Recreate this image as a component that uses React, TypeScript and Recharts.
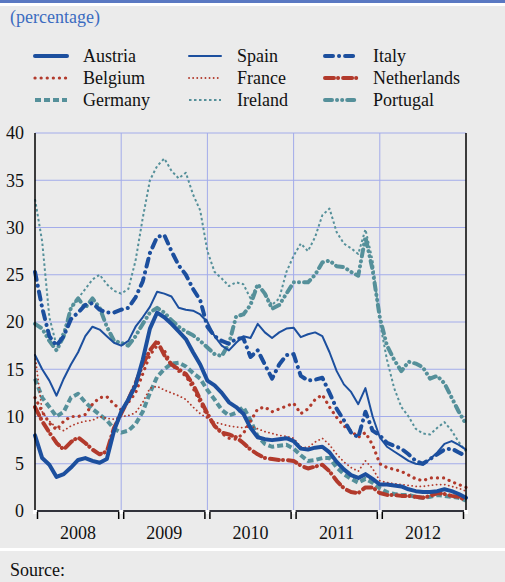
import { LineChart, Line, XAxis, YAxis, CartesianGrid, ReferenceLine } from 'recharts';

// monthly points, Jan 2008 (0) .. Jan 2013 (60)
const months = Array.from({ length: 61 }, (_, i) => i);
const yearLabels = ['2008', '2009', '2010', '2011', '2012'];
const yearBoundaries = [12, 24, 36, 48];
const xTicks = [0, 6, 12, 18, 24, 30, 36, 42, 48, 54, 60];
const yTicks = [0, 5, 10, 15, 20, 25, 30, 35, 40];

const austria = [8, 5.6, 4.9, 3.6, 3.9, 4.6, 5.4, 5.6, 5.3, 5.1, 5.5, 8.5, 10.5, 11.8, 13.3, 16, 19.3, 21, 20.5, 19.8, 19, 18.2, 16.8, 15.5, 13.8, 13.3, 12.5, 11.5, 11, 10.3, 8.8, 7.8, 7.6, 7.5, 7.6, 7.7, 7.4, 6.6, 6.5, 6.7, 6.8, 6.2, 5.2, 4.4, 3.8, 3.5, 3.9, 3.4, 2.8, 2.8, 2.7, 2.6, 2.3, 2.1, 2, 2, 2.1, 2.3, 2.1, 1.8, 1.4];
const belgium = [12, 10.5, 9.3, 8.6, 9.5, 10, 10, 10.2, 11.3, 12, 12.1, 11.3, 10.7, 11.5, 12.5, 14.5, 16.5, 17.5, 17, 15.5, 14.8, 14.3, 13, 11.5, 10, 9, 8.2, 7.7, 7.6, 8.2, 9.5, 10.8, 11, 10.5, 10.8, 11.1, 11.4, 10.3, 10.8, 11.8, 12.3, 11, 9.9, 9, 8.5, 7.8, 8.3, 7, 5, 4.6, 4.4, 4.2, 3.8, 3.4, 3.2, 3.5, 3.5, 3.5, 3.1, 2.8, 2.5];
const germany = [14, 12, 11, 10, 10.5, 12, 12.4, 11.5, 10.8, 10.2, 9.6, 8.7, 8.3, 8.5, 9.2, 10.5, 12.5, 14.2, 15, 15.6, 15.7, 15.3, 14.6, 14, 12.8, 11.8, 10.7, 10.1, 10.4, 11, 9.6, 7.9, 7.1, 6.8, 6.9, 7, 6.6, 5.9, 5.3, 5.4, 5.6, 5.6, 4.6, 3.9, 3.4, 3, 3.4, 3, 2.4, 2, 1.8, 1.7, 1.7, 1.5, 1.4, 1.5, 1.7, 1.6, 1.5, 1.4, 1.1];
const spain = [16.5, 15, 13.8, 12.2, 14, 15.5, 16.8, 18.5, 19.5, 19.2, 18.5, 17.8, 17.5, 18, 19.5, 20.5, 21.6, 23.2, 23, 22.7, 21.5, 21.3, 21.2, 20.8, 20, 18.5, 17.5, 17, 17.8, 18.5, 18.3, 19.8, 18.9, 18.3, 18.9, 19.3, 19.4, 18.4, 18.7, 18.9, 18.5, 16.8, 14.8, 13.4, 12.6, 11.3, 13, 10, 7.8, 6.8, 6.3, 5.8, 5.3, 5, 4.9, 5.5, 6.2, 7.1, 7.4, 7, 6.5];
const france = [16.5, 10.5, 9.5, 8.8, 8.5, 9, 9.3, 9.5, 9.6, 10, 9.8, 9.7, 10, 10.1, 10.4, 11.5, 13, 13.2, 12.8, 12.5, 12.2, 11.8, 11, 10.3, 9.8, 9.4, 9.2, 9, 8.9, 8.8, 9, 8.7, 8.4, 8.2, 8, 7.9, 7.7, 6.8, 6.7, 7.3, 7.7, 7, 6, 5.2, 4.6, 4.2, 5.3, 4.5, 3.2, 3, 2.9, 2.8, 2.7, 2.6, 2.6, 2.7, 2.8, 2.8, 2.6, 2.4, 2.1];
const ireland = [33, 28.5, 20.5, 17.5, 19, 21.5, 22.5, 23.5, 24.5, 25, 24, 23.3, 23, 23.5, 26.5, 31, 35, 36.5, 37.3, 36, 35.2, 35.8, 33.5, 31.8, 27.5, 25.3, 24.6, 23.8, 24.2, 24, 22.5, 24, 23, 21.8, 22.5, 25.3, 27, 28.3, 27.5, 29, 31.3, 32, 29.5, 28.3, 27.8, 27.2, 29.8, 26.5, 20, 16, 13, 11, 10, 8.7, 8.2, 8.1, 8.8, 9.4, 8.5, 7.3, 6.3];
const italy = [25.3, 21.5, 18.5, 17.5, 18.5, 20.3, 21, 21.8, 22, 21.3, 21, 21, 21.3, 21.5, 22.6, 24.3, 27.3, 29, 29.2, 27.5, 26, 25, 23.5, 22.3, 19.5, 18.5, 18, 17.7, 18.2, 18.3, 16.3, 17, 15.5, 14, 15.5, 16.5, 16.6, 14.3, 13.8, 13.9, 14.1, 12.5, 10.8, 9.6, 8.3, 7.8, 10.5, 8.5, 8, 7.2, 6.9, 6.6, 6, 5.3, 5, 5.5, 6, 6.5, 6.6, 6.2, 5.8];
const netherlands = [11, 9.5, 8.3, 7.2, 6.5, 7.3, 7.8, 7.2, 6.5, 6, 6.3, 8.8, 10.3, 11.8, 13.5, 15.5, 17, 18, 16.5, 15.5, 15, 14.5, 13.4, 11.8, 10.3, 9, 8.3, 8.1, 7.8, 7.2, 6.5, 6, 5.6, 5.5, 5.4, 5.4, 5.3, 4.8, 4.5, 4.7, 4.9, 4.2, 3.2, 2.4, 2, 1.9, 2.5, 2.5, 1.9, 1.7, 1.7, 1.6, 1.6, 1.5, 1.4, 1.6, 1.9, 1.8, 1.6, 1.5, 1.1];
const portugal = [19.8, 19.3, 18, 17, 18.5, 21.5, 22.5, 21.5, 22.5, 21.5, 19.5, 18, 17.8, 17.5, 18.5, 19.8, 21, 21.5, 21, 20.2, 19.5, 19, 18.6, 18, 17.3, 16.6, 16.4, 17.7, 20.6, 20.8, 21.8, 24, 23, 21.4, 21.8, 23, 24.2, 24.2, 24.2, 25, 26.3, 26.5, 25.9, 25.8, 25.3, 24.9, 29, 25.5, 20.5, 17.5, 16, 14.8, 15.8, 15.6, 15.2, 14, 14.3, 13.5, 12, 10.5, 9.2];

const BLUE = '#1c4f9e';
const RED = '#b23a2c';
const TEAL = '#55909a';
const GRID = '#a3acea';
const FONT = 'Liberation Serif, serif';

type S = { key: string; values: number[]; color: string; width: number; dash?: string; cap: 'round' | 'butt' };

// drawing order: back to front
const series: S[] = [
  { key: 'Germany', values: germany, color: TEAL, width: 4, dash: '6 3', cap: 'butt' },
  { key: 'Ireland', values: ireland, color: TEAL, width: 2, dash: '2.5 2.5', cap: 'butt' },
  { key: 'Portugal', values: portugal, color: TEAL, width: 4, dash: '7 5 0.1 5 0.1 5', cap: 'round' },
  { key: 'France', values: france, color: RED, width: 1.8, dash: '0.1 4', cap: 'round' },
  { key: 'Belgium', values: belgium, color: RED, width: 3.2, dash: '0.1 6', cap: 'round' },
  { key: 'Netherlands', values: netherlands, color: RED, width: 4, dash: '9 4 0.1 5', cap: 'round' },
  { key: 'Italy', values: italy, color: BLUE, width: 4, dash: '8 6 0.1 6', cap: 'round' },
  { key: 'Spain', values: spain, color: BLUE, width: 2, cap: 'round' },
  { key: 'Austria', values: austria, color: BLUE, width: 4, cap: 'round' },
];

const legendColumns = [
  ['Austria', 'Belgium', 'Germany'],
  ['Spain', 'France', 'Ireland'],
  ['Italy', 'Netherlands', 'Portugal'],
];

const data = months.map((m, i) => {
  const row: Record<string, number> = { m };
  series.forEach((s) => { row[s.key] = s.values[i]; });
  return row;
});

function YearTick(props: any) {
  const { x, y, payload } = props;
  const v = payload.value as number;
  if (v % 12 === 6) {
    return (
      <text x={x} y={y + 28} textAnchor="middle" fontFamily={FONT} fontSize={18} fill="#111">
        {yearLabels[(v - 6) / 12]}
      </text>
    );
  }
  return (
    <g>
      <rect x={x - 2} y={y - 1} width={4} height={4} fill="#ffffff" />
      {v > 0 && <line x1={x - 2.5} x2={x - 2.5} y1={y + 1} y2={y + 8} stroke="#000" strokeWidth={1.5} />}
      {v < 60 && <line x1={x + 2.5} x2={x + 2.5} y1={y + 1} y2={y + 8} stroke="#000" strokeWidth={1.5} />}
    </g>
  );
}

function LegendBlock() {
  const colX = [33, 187, 323];
  const rowY = [56, 78, 100];
  return (
    <svg width={505} height={120} style={{ position: 'absolute', left: 0, top: 0 }}>
      {legendColumns.map((col, ci) =>
        col.map((name, ri) => {
          const s = series.find((d) => d.key === name)!;
          const x = colX[ci];
          const y = rowY[ri];
          return (
            <g key={name}>
              <line x1={x + 2} x2={x + 34} y1={y} y2={y} stroke={s.color} strokeWidth={s.width}
                strokeDasharray={s.dash} strokeLinecap={s.cap} />
              <text x={x + 50} y={y + 6} fontFamily={FONT} fontSize={18} fill="#111">{name}</text>
            </g>
          );
        })
      )}
    </svg>
  );
}

export default function App() {
  return (
    <div style={{ position: 'absolute', left: 0, top: 0, width: 505, height: 582, background: '#ebebeb', overflow: 'hidden', fontFamily: FONT }}>
      <div style={{ position: 'absolute', left: 0, top: 0, width: 505, height: 3, background: '#5a78c2' }} />
      <div style={{ position: 'absolute', left: 0, top: 3, width: 505, height: 3, background: '#ffffff' }} />
      <div style={{ position: 'absolute', left: 10, top: 7, fontSize: 18, color: '#3b6cc0' }}>(percentage)</div>
      <LegendBlock />
      <div style={{ position: 'absolute', left: 0, top: 0 }}>
        <LineChart width={505} height={548} data={data} margin={{ top: 133, right: 0, bottom: 7, left: 0 }}>
          <CartesianGrid yAxisId="left" vertical={false} stroke={GRID} strokeWidth={1} />
          {yearBoundaries.map((b) => (
            <ReferenceLine key={b} yAxisId="left" x={b} stroke={GRID} strokeWidth={1} />
          ))}
          <XAxis dataKey="m" type="number" domain={[0, 60]} ticks={xTicks} interval={0}
            tick={<YearTick />} tickLine={false} tickSize={0} tickMargin={0} height={30}
            axisLine={{ stroke: '#000', strokeWidth: 1.5 }} />
          <YAxis yAxisId="left" domain={[0, 40]} ticks={yTicks} width={35} tickLine={false} tickMargin={5}
            axisLine={{ stroke: '#000', strokeWidth: 1.5 }}
            tick={{ fontFamily: FONT, fontSize: 18, fill: '#111' }} />
          <YAxis yAxisId="right" orientation="right" domain={[0, 40]} ticks={yTicks} width={39} tickLine={false} tickMargin={5}
            axisLine={{ stroke: '#000', strokeWidth: 1.5 }}
            tick={{ fontFamily: FONT, fontSize: 18, fill: '#111', textAnchor: 'start' }} />
          {series.map((s) => (
            <Line key={s.key} yAxisId="left" type="linear" dataKey={s.key} stroke={s.color} strokeWidth={s.width}
              strokeDasharray={s.dash} strokeLinecap={s.cap} strokeLinejoin="round" dot={false}
              isAnimationActive={false} />
          ))}
        </LineChart>
      </div>
      <div style={{ position: 'absolute', left: 0, top: 548, width: 505, height: 3, background: '#ffffff' }} />
      <div style={{ position: 'absolute', left: 10, top: 560, fontSize: 18, color: '#111' }}>Source:</div>
    </div>
  );
}
